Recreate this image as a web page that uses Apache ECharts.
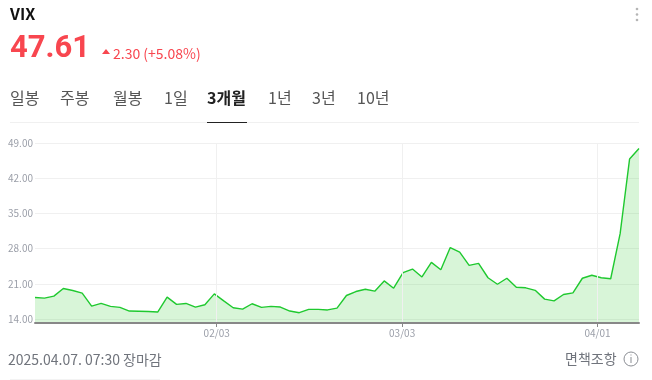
<!DOCTYPE html>
<html>
<head>
<meta charset="utf-8">
<script src="https://cdn.jsdelivr.net/npm/echarts@6/dist/echarts.min.js"></script>
<style>
html, body { margin: 0; padding: 0; background: #fff; }
#main { width: 652px; height: 380px; }
</style>
</head>
<body>
<div id="main"></div>
<script>
const vix = [
    18.28, 18.14, 18.54, 20.05, 19.66, 19.13, 16.57, 17.09, 16.5, 16.3,
    15.58, 15.55, 15.48, 15.38, 18.34, 16.9, 17.09, 16.37, 16.83, 19.0,
    17.6, 16.24, 15.97, 17.03, 16.3, 16.5, 16.37, 15.58, 15.25, 15.9,
    15.9, 15.8, 16.17, 18.67, 19.46, 19.92, 19.53, 21.57, 20.12, 23.2,
    23.93, 22.36, 25.25, 23.8, 28.2, 27.3, 24.66, 25.05, 22.2, 20.9,
    22.1, 20.3, 20.2, 19.7, 17.95, 17.6, 18.87, 19.2, 22.1, 22.7,
    22.2, 22.0, 30.97, 45.8, 47.9
];
// ticks sit between sessions in the original, so they are fractional session numbers
const dateTicks = [19.25, 38.9, 59.6];
const dateLabels = ['02/03', '03/03', '04/01'];
const priceTicks = [14, 21, 28, 35, 42, 49];
const tabs = ['일봉', '주봉', '월봉', '1일', '3개월', '1년', '3년', '10년'];
const tabX = [10, 60, 113, 164, 207, 268, 312, 357];

const font = '"Noto Sans CJK KR", "Noto Sans", sans-serif';
const red = '#f8464f';

const chart = echarts.init(document.getElementById('main'));

const texts = [
    { x: 10, y: 6, text: 'VIX', size: 16, weight: 'bold', color: '#111', family: font },
    { x: 10, y: 34, text: '47.61', size: 31, weight: 'bold', color: red, family: 'Roboto' },
    { x: 113, y: 47, text: '2.30 (+5.08%)', size: 14, weight: 'normal', color: red, family: font },
    { x: 8, y: 353, text: '2025.04.07. 07:30 장마감', size: 14, weight: 'normal', color: '#70747c', family: font },
    { x: 565, y: 352, text: '면책조항', size: 14, weight: 'normal', color: '#70747c', family: font }
];
tabs.forEach(function (t, i) {
    texts.push({
        x: tabX[i], y: 90, text: t, size: 16,
        weight: t === '3개월' ? 'bold' : 'normal',
        color: t === '3개월' ? '#222' : '#555',
        family: font
    });
});

const graphics = texts.map(function (t) {
    return {
        type: 'text', left: t.x, top: t.y, silent: true,
        style: { text: t.text, fontSize: t.size, fontWeight: t.weight, fontFamily: t.family, fill: t.color }
    };
});
graphics.push(
    { type: 'polygon', silent: true, shape: { points: [[102, 54], [110, 54], [106, 49]] }, style: { fill: red } },
    { type: 'rect', silent: true, shape: { x: 10, y: 122, width: 629, height: 1 }, style: { fill: '#f0f0f0' } },
    { type: 'rect', silent: true, z: 5, shape: { x: 207, y: 122, width: 40, height: 1 }, style: { fill: '#222' } },
    { type: 'rect', silent: true, shape: { x: 10, y: 379, width: 150, height: 1 }, style: { fill: '#f3f3f3' } },
    { type: 'circle', silent: true, shape: { cx: 637, cy: 9, r: 1.3 }, style: { fill: '#b5b5b5' } },
    { type: 'circle', silent: true, shape: { cx: 637, cy: 14.5, r: 1.3 }, style: { fill: '#b5b5b5' } },
    { type: 'circle', silent: true, shape: { cx: 637, cy: 20, r: 1.3 }, style: { fill: '#b5b5b5' } },
    { type: 'circle', silent: true, shape: { cx: 631, cy: 359, r: 7 }, style: { fill: 'none', stroke: '#8a8d93', lineWidth: 1 } },
    { type: 'rect', silent: true, shape: { x: 630.5, y: 357, width: 1, height: 6 }, style: { fill: '#8a8d93' } },
    { type: 'rect', silent: true, shape: { x: 630.5, y: 354.5, width: 1, height: 1 }, style: { fill: '#8a8d93' } }
);

const option = {
    animation: false,
    textStyle: { fontFamily: font },
    grid: { left: 35, right: 13, top: 143, height: 180, containLabel: false },
    xAxis: {
        type: 'value',
        min: 0,
        max: 64,
        z: 10,
        axisLine: { onZero: false, lineStyle: { color: '#888', width: 2 } },
        axisTick: { length: 4, lineStyle: { color: '#888' }, customValues: dateTicks },
        splitLine: { show: true, lineStyle: { color: '#f0f0f0' } },
        axisLabel: {
            customValues: dateTicks,
            fontSize: 10, color: '#9a9ea8', margin: 5, hideOverlap: false,
            formatter: function (v) {
                return dateLabels[dateTicks.indexOf(v)];
            }
        }
    },
    yAxis: {
        type: 'value',
        min: 13.2,
        max: 49,
        axisLine: { show: false },
        axisTick: { show: false, customValues: priceTicks },
        splitLine: { show: true, lineStyle: { color: '#f0f0f0' } },
        axisLabel: {
            customValues: priceTicks,
            fontSize: 10, color: '#9a9ea8', margin: 2,
            showMinLabel: true,
            formatter: function (v) { return v.toFixed(2); }
        }
    },
    series: [{
        type: 'line',
        data: vix.map(function (v, i) { return [i, v]; }),
        showSymbol: false,
        lineStyle: { color: '#1fc92f', width: 1.4 },
        areaStyle: { color: 'rgba(60, 205, 60, 0.2)', opacity: 1 }
    }],
    graphic: graphics
};

chart.setOption(option);
</script>
</body>
</html>
